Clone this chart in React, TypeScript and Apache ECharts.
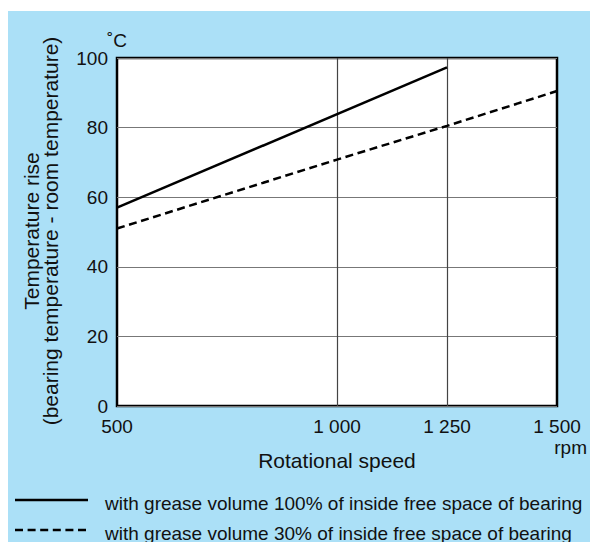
import React, { useEffect, useRef } from "react";
import * as echarts from "echarts";

const xTicks = [500, 1000, 1250, 1500];
const verticalGrid = [1000, 1250];
const yTicks = [0, 20, 40, 60, 80, 100];
const seriesNames = [
  "with grease volume 100% of inside free space of bearing",
  "with grease volume 30% of inside free space of bearing",
];
const grease100: [number, number][] = [
  [500, 57],
  [1250, 97.3],
];
const grease30: [number, number][] = [
  [500, 51],
  [1000, 70.8],
  [1250, 80.5],
  [1500, 90.5],
];

const FONT = "'Liberation Sans', Arial, Helvetica, sans-serif";
const BLUE = "#abe0f7";
const DASH = [8, 4.6];
const W = 582;
const H = 531;

export default function App() {
  const ref = useRef<HTMLDivElement>(null);
  useEffect(() => {
    if (!ref.current) return;
    const chart = echarts.init(ref.current, undefined, { renderer: "svg" });
    const fmt = (v: number) => {
      if (!xTicks.includes(v)) return "";
      const s = String(v);
      return s.length > 3 ? s.slice(0, s.length - 3) + " " + s.slice(-3) : s;
    };
    const legendGraphics: any[] = [];
    seriesNames.forEach((name, i) => {
      const ly = 489 + i * 30;
      legendGraphics.push({
        type: "line",
        shape: { x1: 7, y1: ly, x2: 80, y2: ly },
        style: {
          stroke: "#000",
          lineWidth: 2.5,
          lineDash: i === 0 ? null : DASH,
        },
      });
      legendGraphics.push({
        type: "text",
        x: 97,
        y: ly + 3,
        style: {
          text: name,
          fontSize: 19,
          fill: "#111",
          fontFamily: FONT,
          textAlign: "left",
          textVerticalAlign: "middle",
        },
      });
    });
    chart.setOption({
      animation: false,
      backgroundColor: BLUE,
      textStyle: { fontFamily: FONT },
      grid: {
        left: 109,
        top: 47,
        right: W - 549,
        bottom: 136,
        show: true,
        backgroundColor: "#fff",
        borderColor: "#000",
        borderWidth: 2.5,
      },
      xAxis: {
        type: "value",
        min: 500,
        max: 1500,
        interval: 250,
        name: "Rotational speed",
        nameLocation: "middle",
        nameGap: 44,
        nameTextStyle: { fontSize: 21, color: "#111", fontFamily: FONT },
        axisLine: { show: false },
        axisTick: { show: false },
        splitLine: { show: false },
        axisLabel: {
          formatter: fmt,
          fontSize: 19,
          color: "#111",
          margin: 11,
          fontFamily: FONT,
        },
      },
      yAxis: {
        type: "value",
        min: 0,
        max: 100,
        interval: 20,
        axisLine: { show: false },
        axisTick: { show: false },
        splitLine: { show: true, lineStyle: { color: "#777", width: 1.2 } },
        axisLabel: {
          formatter: (v: number) => (yTicks.includes(v) ? String(v) : ""),
          fontSize: 19,
          color: "#111",
          margin: 9,
          fontFamily: FONT,
        },
      },
      series: [
        {
          name: seriesNames[0],
          type: "line",
          data: grease100,
          symbol: "none",
          lineStyle: { color: "#000", width: 2.5, type: "solid" },
          itemStyle: { color: "#000" },
          z: 5,
          markLine: {
            silent: true,
            symbol: "none",
            label: { show: false },
            lineStyle: { color: "#444", width: 1.2, type: "solid" },
            data: verticalGrid.map((v) => ({ xAxis: v })),
            z: 1,
          },
        },
        {
          name: seriesNames[1],
          type: "line",
          data: grease30,
          symbol: "none",
          lineStyle: { color: "#000", width: 2.5, type: DASH },
          itemStyle: { color: "#000" },
          z: 5,
        },
      ],
      graphic: [
        {
          type: "text",
          x: 99,
          y: 29,
          style: {
            text: "˚C",
            fontSize: 19,
            fill: "#111",
            fontFamily: FONT,
            textAlign: "left",
            textVerticalAlign: "middle",
          },
        },
        {
          type: "text",
          x: 579,
          y: 436,
          style: {
            text: "rpm",
            fontSize: 19,
            fill: "#111",
            fontFamily: FONT,
            textAlign: "right",
            textVerticalAlign: "middle",
          },
        },
        {
          type: "text",
          x: 33,
          y: 220,
          rotation: Math.PI / 2,
          style: {
            text: "Temperature rise\n(bearing temperature - room temperature)",
            fontSize: 21,
            lineHeight: 19,
            fill: "#111",
            fontFamily: FONT,
            textAlign: "center",
            textVerticalAlign: "middle",
          },
        },
        ...legendGraphics,
      ],
    });
    return () => chart.dispose();
  }, []);
  return (
    <div
      style={{
        position: "fixed",
        left: 8,
        top: 11,
        right: -40,
        bottom: -40,
        background: BLUE,
      }}
    >
      <div ref={ref} style={{ width: W, height: H }} />
    </div>
  );
}
